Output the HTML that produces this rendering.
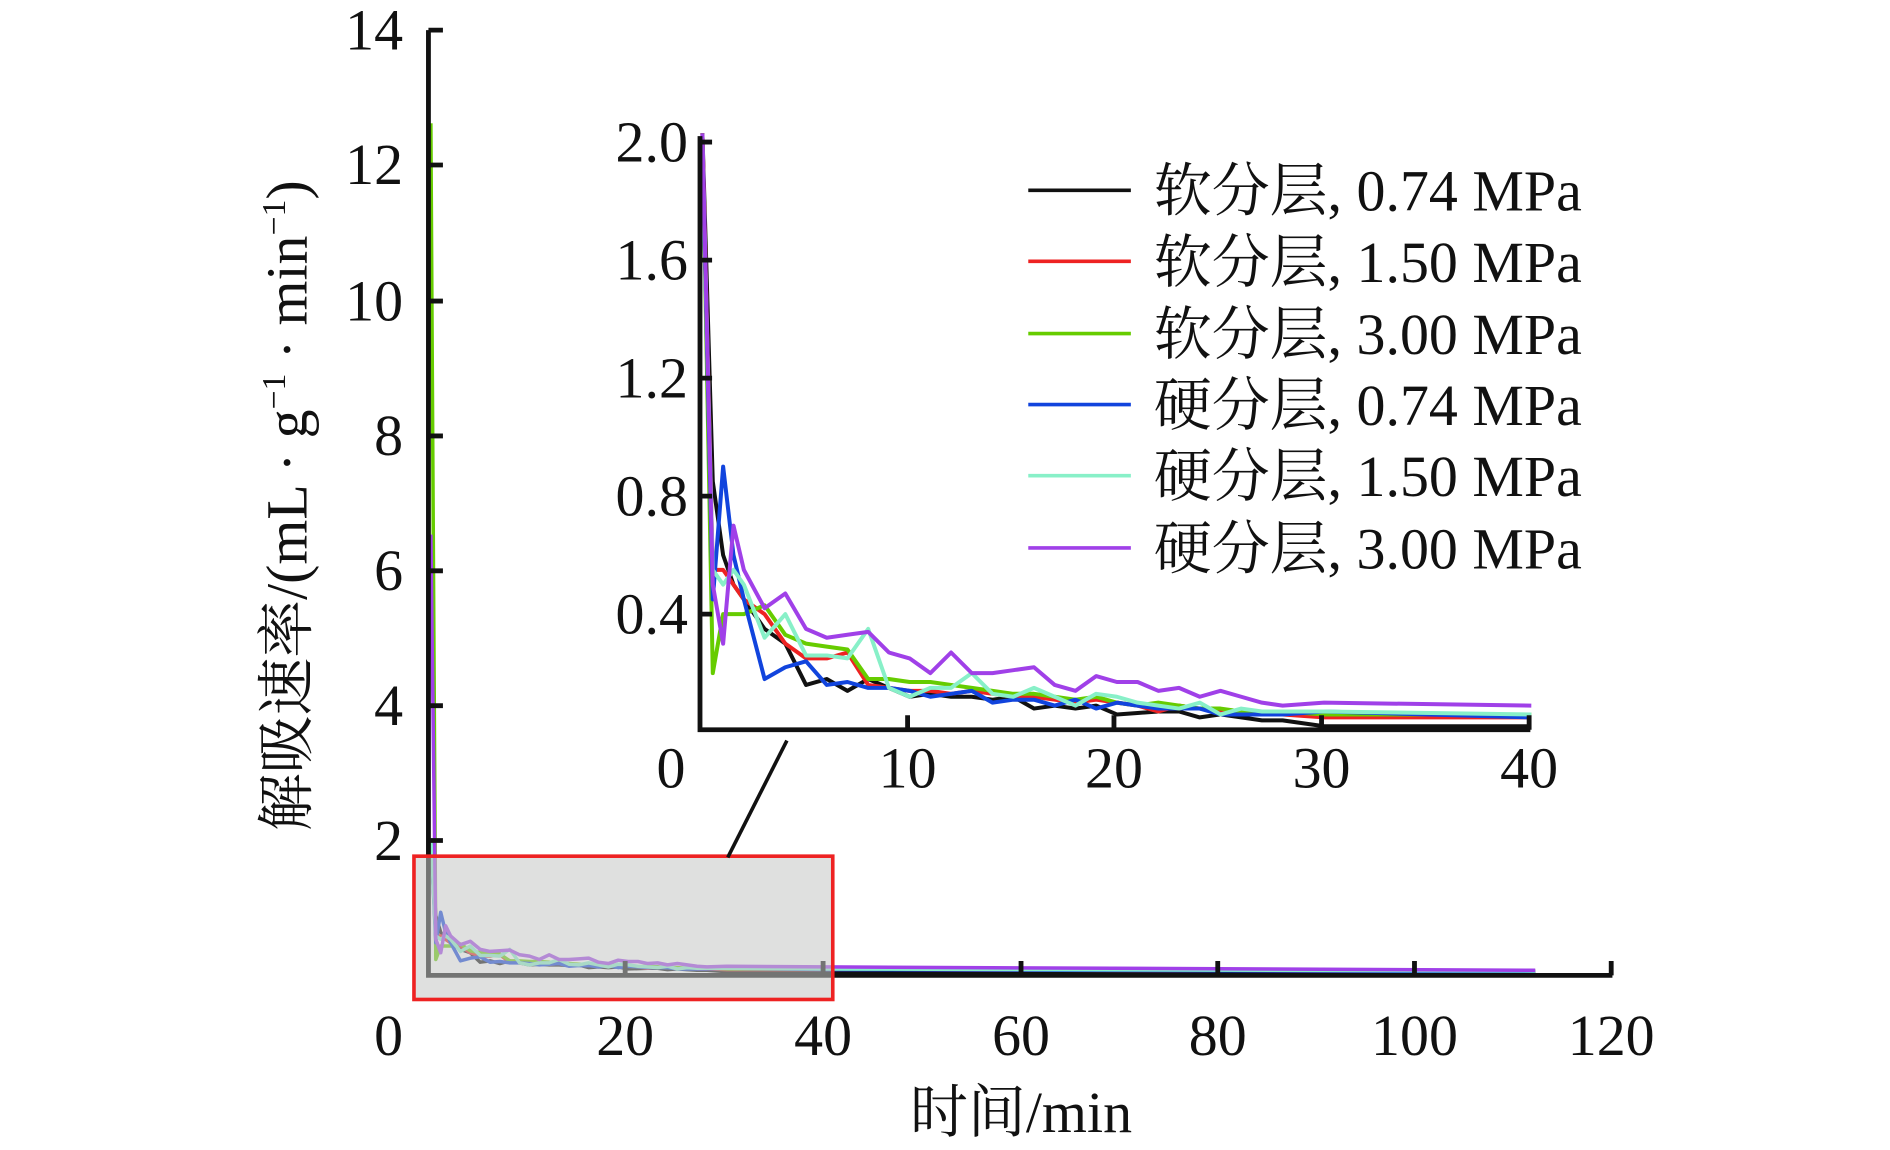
<!DOCTYPE html>
<html><head><meta charset="utf-8"><style>
html,body{margin:0;padding:0;background:#fff;}
svg{display:block;}
text{font-family:"Liberation Serif","Noto Serif CJK SC",serif;fill:#111;}
</style></head><body>
<svg width="1890" height="1150" viewBox="0 0 1566 955" preserveAspectRatio="none" xmlns="http://www.w3.org/2000/svg">
<g fill="none" stroke-width="3.5" stroke-linejoin="round" transform="matrix(8.17,0,0,-56,357,808)">
<polyline vector-effect="non-scaling-stroke" stroke="#111" points="0,2 0.5,.85 1,.6 1.5,.5 2,.45 3,.35 4,.3 5,.16 6,.18 7,.14 8,.18 9,.15 10,.12 11,.13 12,.12 13,.12 14,.11 15,.12 16,.08 17,.09 18,.08 19,.09 20,.06 21,.065 22,.07 23,.07 24,.05 25,.06 26,.05 27,.04 28,.04 30,.02 40,.02 112,.01"/>
<polyline vector-effect="non-scaling-stroke" stroke="#ee2222" points="0,2 0.5,.55 1,.55 1.5,.5 2,.45 3,.4 4,.3 5,.25 6,.25 7,.27 8,.16 9,.15 10,.14 11,.14 12,.13 13,.14 14,.13 15,.12 16,.12 17,.11 18,.1 19,.11 20,.1 21,.09 22,.07 23,.09 24,.08 25,.07 26,.07 27,.06 28,.06 30,.05 40,.05 112,.02"/>
<polyline vector-effect="non-scaling-stroke" stroke="#66cc00" points="0,12.6 0.5,.2 1,.4 1.5,.4 2,.4 3,.43 4,.33 5,.3 6,.29 7,.28 8,.18 9,.18 10,.17 11,.17 12,.16 13,.15 14,.14 15,.13 16,.13 17,.12 18,.11 19,.12 20,.1 21,.09 22,.1 23,.09 24,.08 25,.08 26,.07 27,.07 28,.07 30,.06 40,.06 112,.03"/>
<polyline vector-effect="non-scaling-stroke" stroke="#1144dd" points="0,2 0.5,.45 1,.9 1.5,.6 2,.45 3,.18 4,.22 5,.24 6,.16 7,.17 8,.15 9,.15 10,.14 11,.12 12,.13 13,.14 14,.1 15,.11 16,.11 17,.09 18,.11 19,.08 20,.1 21,.09 22,.08 23,.08 24,.08 25,.06 26,.06 27,.06 28,.06 30,.07 40,.05 112,.02"/>
<polyline vector-effect="non-scaling-stroke" stroke="#88f0c8" points="0,2 0.5,.55 1,.5 1.5,.55 2,.5 3,.32 4,.4 5,.26 6,.26 7,.25 8,.35 9,.15 10,.12 11,.15 12,.15 13,.2 14,.13 15,.12 16,.15 17,.12 18,.09 19,.13 20,.12 21,.1 22,.09 23,.08 24,.1 25,.06 26,.08 27,.07 28,.07 30,.07 40,.06 112,.03"/>
<polyline vector-effect="non-scaling-stroke" stroke="#a040e8" points="0,6.5 0.5,.5 1,.3 1.5,.7 2,.55 3,.42 4,.47 5,.35 6,.32 7,.33 8,.34 9,.27 10,.25 11,.2 12,.27 13,.2 14,.2 15,.21 16,.22 17,.16 18,.14 19,.19 20,.17 21,.17 22,.14 23,.15 24,.12 25,.14 26,.12 27,.1 28,.09 30,.1 40,.09 112,.04"/>
</g>
<g stroke="#111" stroke-width="4" fill="none">
<path d="M355,25 V810 H1336"/>
<path d="M355,25 h12 M355,137 h12 M355,250 h12 M355,362 h12 M355,474 h12 M355,586 h12 M355,698 h12"/>
<path d="M518,810 v-12 M682,810 v-12 M846,810 v-12 M1009,810 v-12 M1172,810 v-12 M1335,810 v-12"/>
</g>
<g font-size="48" text-anchor="end">
<text x="334" y="41">14</text><text x="334" y="153">12</text><text x="334" y="266">10</text>
<text x="334" y="378">8</text><text x="334" y="490">6</text><text x="334" y="602">4</text><text x="334" y="714">2</text>
</g>
<g font-size="48" text-anchor="middle">
<text x="322" y="876">0</text><text x="518" y="876">20</text><text x="682" y="876">40</text>
<text x="846" y="876">60</text><text x="1009" y="876">80</text><text x="1172" y="876">100</text><text x="1335" y="876">120</text>
<text x="846" y="940">时间/min</text>
</g>
<text font-size="48" text-anchor="middle" transform="translate(254,420) rotate(-90)">解吸速率/(mL · g<tspan font-size="28" dy="-18">−1</tspan><tspan dy="18"> · min</tspan><tspan font-size="28" dy="-18">−1</tspan><tspan dy="18">)</tspan></text>
<rect x="343" y="711" width="347" height="119" fill="#c4c7c4" fill-opacity="0.55" stroke="#ee2222" stroke-width="3"/>
<line x1="603" y1="712" x2="652" y2="615" stroke="#111" stroke-width="3"/>
<g fill="none" stroke-width="4" stroke-linejoin="round" transform="matrix(17.17,0,0,-245,582,608)">
<polyline vector-effect="non-scaling-stroke" stroke="#111" points="0,2.03 0.5,.85 1,.6 1.5,.5 2,.45 3,.35 4,.3 5,.16 6,.18 7,.14 8,.18 9,.15 10,.12 11,.13 12,.12 13,.12 14,.11 15,.12 16,.08 17,.09 18,.08 19,.09 20,.06 21,.065 22,.07 23,.07 24,.05 25,.06 26,.05 27,.04 28,.04 30,.02 40,.02"/>
<polyline vector-effect="non-scaling-stroke" stroke="#ee2222" points="0,2.03 0.5,.55 1,.55 1.5,.5 2,.45 3,.4 4,.3 5,.25 6,.25 7,.27 8,.16 9,.15 10,.14 11,.14 12,.13 13,.14 14,.13 15,.12 16,.12 17,.11 18,.1 19,.11 20,.1 21,.09 22,.07 23,.09 24,.08 25,.07 26,.07 27,.06 28,.06 30,.05 40,.05"/>
<polyline vector-effect="non-scaling-stroke" stroke="#66cc00" points="0,2.03 0.5,.2 1,.4 1.5,.4 2,.4 3,.43 4,.33 5,.3 6,.29 7,.28 8,.18 9,.18 10,.17 11,.17 12,.16 13,.15 14,.14 15,.13 16,.13 17,.12 18,.11 19,.12 20,.1 21,.09 22,.1 23,.09 24,.08 25,.08 26,.07 27,.07 28,.07 30,.06 40,.06"/>
<polyline vector-effect="non-scaling-stroke" stroke="#1144dd" points="0,2.0 0.5,.45 1,.9 1.5,.6 2,.45 3,.18 4,.22 5,.24 6,.16 7,.17 8,.15 9,.15 10,.14 11,.12 12,.13 13,.14 14,.1 15,.11 16,.11 17,.09 18,.11 19,.08 20,.1 21,.09 22,.08 23,.08 24,.08 25,.06 26,.06 27,.06 28,.06 30,.07 40,.05"/>
<polyline vector-effect="non-scaling-stroke" stroke="#88f0c8" points="0,2.0 0.5,.55 1,.5 1.5,.55 2,.5 3,.32 4,.4 5,.26 6,.26 7,.25 8,.35 9,.15 10,.12 11,.15 12,.15 13,.2 14,.13 15,.12 16,.15 17,.12 18,.09 19,.13 20,.12 21,.1 22,.09 23,.08 24,.1 25,.06 26,.08 27,.07 28,.07 30,.07 40,.06"/>
<polyline vector-effect="non-scaling-stroke" stroke="#a040e8" points="0,2.03 0.5,.5 1,.3 1.5,.7 2,.55 3,.42 4,.47 5,.35 6,.32 7,.33 8,.34 9,.27 10,.25 11,.2 12,.27 13,.2 14,.2 15,.21 16,.22 17,.16 18,.14 19,.19 20,.17 21,.17 22,.14 23,.15 24,.12 25,.14 26,.12 27,.1 28,.09 30,.1 40,.09"/>
</g>
<g stroke="#111" stroke-width="4" fill="none">
<path d="M580,113 V606 H1268"/>
<path d="M580,118 h10 M580,216 h10 M580,314 h10 M580,412 h10 M580,510 h10"/>
<path d="M752,606 v-12 M923,606 v-12 M1095,606 v-12 M1267,606 v-12"/>
</g>
<g font-size="48" text-anchor="end">
<text x="570" y="134">2.0</text><text x="570" y="232">1.6</text><text x="570" y="330">1.2</text>
<text x="570" y="428">0.8</text><text x="570" y="526">0.4</text>
</g>
<g font-size="48" text-anchor="middle">
<text x="556" y="654">0</text><text x="752" y="654">10</text><text x="923" y="654">20</text><text x="1095" y="654">30</text><text x="1267" y="654">40</text>
</g>
<g stroke-width="3">
<line x1="852" y1="158" x2="937" y2="158" stroke="#111"/>
<line x1="852" y1="217" x2="937" y2="217" stroke="#ee2222"/>
<line x1="852" y1="277" x2="937" y2="277" stroke="#66cc00"/>
<line x1="852" y1="336" x2="937" y2="336" stroke="#1144dd"/>
<line x1="852" y1="395" x2="937" y2="395" stroke="#88f0c8"/>
<line x1="852" y1="455" x2="937" y2="455" stroke="#a040e8"/>
</g>
<g font-size="48">
<text x="956" y="175">软分层, 0.74 MPa</text>
<text x="956" y="234">软分层, 1.50 MPa</text>
<text x="956" y="294">软分层, 3.00 MPa</text>
<text x="956" y="353">硬分层, 0.74 MPa</text>
<text x="956" y="412">硬分层, 1.50 MPa</text>
<text x="956" y="472">硬分层, 3.00 MPa</text>
</g>
</svg>
</body></html>
